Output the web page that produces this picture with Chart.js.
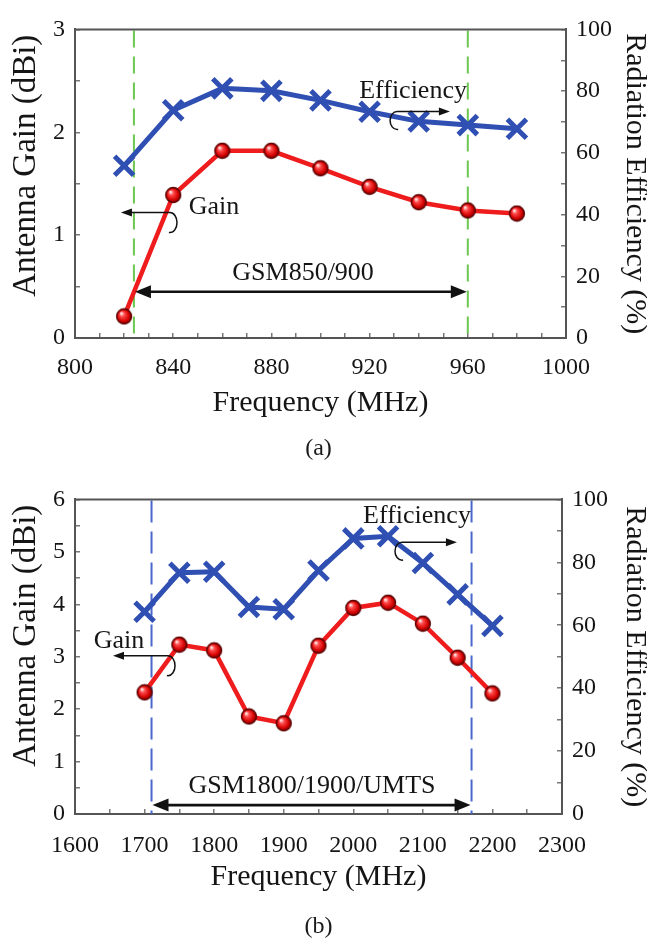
<!DOCTYPE html>
<html><head><meta charset="utf-8">
<script src="https://cdn.jsdelivr.net/npm/chart.js@4.4.1/dist/chart.umd.min.js"></script>
<style>
html,body{margin:0;padding:0;background:#fff;}
#wrap{position:relative;width:647px;height:949px;overflow:hidden;background:#fff;}
.cv{position:absolute;left:0;width:647px;}
.cap{position:absolute;left:-5px;width:647px;text-align:center;font-family:"Liberation Serif","Times New Roman",serif;font-size:24px;line-height:28px;color:#1a1a1a;}
</style></head><body>
<div id="wrap">
<div class="cv" style="top:0;height:470px;"><canvas id="c1" width="647" height="470"></canvas></div>
<div class="cv" style="top:470px;height:479px;"><canvas id="c2" width="647" height="479"></canvas></div>
<div class="cap" style="top:433px">(a)</div>
<div class="cap" style="top:911px">(b)</div>
</div>
<script>
// ---------- data (a) ----------
const freqA = [820, 840, 860, 880, 900, 920, 940, 960, 980];
const gainA = [0.21, 1.39, 1.82, 1.82, 1.65, 1.47, 1.32, 1.24, 1.21];
const effA  = [55.8, 73.8, 80.9, 80.1, 77.0, 73.3, 70.2, 69.0, 67.8];
const xTickLabelsA = [800, 840, 880, 920, 960, 1000];
const gainTickLabelsA = [0, 1, 2, 3];
const bandA = [824, 960];
const bandTextA = 'GSM850/900';

// ---------- data (b) ----------
const freqB = [1700, 1750, 1800, 1850, 1900, 1950, 2000, 2050, 2100, 2150, 2200];
const gainB = [2.32, 3.23, 3.12, 1.86, 1.73, 3.21, 3.93, 4.03, 3.63, 2.98, 2.30];
const effB  = [64.3, 76.7, 77.0, 65.8, 65.1, 77.4, 87.6, 88.3, 79.8, 69.8, 59.8];
const xTickLabelsB = [1600, 1700, 1800, 1900, 2000, 2100, 2200, 2300];
const gainTickLabelsB = [0, 1, 2, 3, 4, 5, 6];
const bandB = [1710, 2170];
const bandTextB = 'GSM1800/1900/UMTS';

const effTickLabels = [0, 20, 40, 60, 80, 100];
const gainTitle = 'Antenna Gain (dBi)';

// ---------- styling ----------
const FONT = '"Liberation Serif","Times New Roman",serif';
const TXT = '#151515';
const RED = '#ee1c1c';
const BLUE = '#2f4fb3';

function sphere(r){
  const s = Math.ceil(r*2+3);
  const c = document.createElement('canvas'); c.width = s; c.height = s;
  const g = c.getContext('2d'); const cx = s/2, cy = s/2;
  const gr = g.createRadialGradient(cx - r*0.38, cy - r*0.42, r*0.08, cx, cy, r);
  gr.addColorStop(0, '#ffe8e8');
  gr.addColorStop(0.28, '#ff4a4a');
  gr.addColorStop(0.75, '#d40000');
  gr.addColorStop(1, '#7a0000');
  g.fillStyle = gr; g.beginPath(); g.arc(cx, cy, r, 0, Math.PI*2); g.fill();
  g.lineWidth = 1.3; g.strokeStyle = '#5a0000'; g.stroke();
  return c;
}
const ball = sphere(7.5);

function xScale(min, max, step, labels, h, tickPad, titlePad){
  return {
    type: 'linear', position: 'bottom', min, max,
    ticks: {stepSize: step, autoSkip: false, maxRotation: 0, minRotation: 0, padding: tickPad, color: TXT,
      font: {family: FONT, size: 24}, callback: v => labels.includes(v) ? String(v) : ''},
    grid: {drawOnChartArea: false, tickLength: -5, color: '#777', lineWidth: 1.5},
    border: {color: '#555', width: 2},
    title: {display: true, text: 'Frequency (MHz)', color: TXT, font: {family: FONT, size: 30, lineHeight: 1.2},
      padding: {top: 0, bottom: titlePad}},
    afterFit(s){ s.height = h; }
  };
}
function yLeft(max, labels){
  return {
    type: 'linear', position: 'left', min: 0, max,
    ticks: {stepSize: 0.5, autoSkip: false, padding: 15, color: TXT, font: {family: FONT, size: 24},
      callback: v => labels.includes(v) ? String(v) : ''},
    grid: {drawOnChartArea: false, tickLength: -5, color: '#777', lineWidth: 1.5},
    border: {color: '#555', width: 2},
    title: {display: false, text: gainTitle},
    afterFit(s){ s.width = 75; }
  };
}
function yRight(w){
  return {
    type: 'linear', position: 'right', min: 0, max: 100,
    ticks: {stepSize: 10, autoSkip: false, padding: 15, color: TXT, font: {family: FONT, size: 24},
      callback: v => effTickLabels.includes(v) ? String(v) : ''},
    grid: {drawOnChartArea: false, tickLength: -5, color: '#777', lineWidth: 1.5},
    border: {color: '#555', width: 2},
    title: {display: true, text: 'Radiation Efficiency (%)', color: TXT, font: {family: FONT, size: 30, lineHeight: 1.2},
      padding: {top: -6, bottom: 0}},
    afterFit(s){ s.width = w; }
  };
}

function head(ctx, x, y, dir, len, hw){
  ctx.beginPath(); ctx.moveTo(x, y); ctx.lineTo(x - dir*len, y - hw); ctx.lineTo(x - dir*len, y + hw); ctx.closePath(); ctx.fill();
}
function seg(ctx, x1, y1, x2, y2){ ctx.beginPath(); ctx.moveTo(x1, y1); ctx.lineTo(x2, y2); ctx.stroke(); }

function annotPlugin(a){
  return {
    id: 'annot',
    beforeDatasetsDraw(chart){
      const {ctx, chartArea: ca, scales} = chart;
      ctx.save();
      ctx.strokeStyle = a.dashColor; ctx.lineWidth = 2; ctx.setLineDash(a.dash);
      a.band.forEach(f => {
        const px = scales.x.getPixelForValue(f);
        seg(ctx, px, ca.top + 1, px, ca.bottom);
      });
      ctx.restore();
    },
    afterDatasetsDraw(chart){
      const {ctx, chartArea: ca, scales} = chart;
      const X = v => scales.x.getPixelForValue(v);
      const YL = v => scales.yL.getPixelForValue(v);
      const YR = v => scales.yR.getPixelForValue(v);
      ctx.save();
      // frame top
      ctx.strokeStyle = '#555'; ctx.lineWidth = 2;
      seg(ctx, ca.left - 1, ca.top, ca.right + 1, ca.top);
      ctx.fillStyle = '#111'; ctx.strokeStyle = '#111';
      // band double arrow
      const bx1 = X(a.band[0]), bx2 = X(a.band[1]), by = YL(a.bandY);
      ctx.lineWidth = 2.6;
      seg(ctx, bx1 + 10, by, bx2 - 10, by);
      head(ctx, bx1 + 1, by, -1, 16, 6.5); head(ctx, bx2 - 1, by, 1, 16, 6.5);
      ctx.font = '26px ' + FONT; ctx.textAlign = 'center'; ctx.textBaseline = 'middle'; ctx.fillStyle = TXT;
      ctx.fillText(a.bandText, X(a.bandLabel[0]), YL(a.bandLabel[1]));
      ctx.fillText('Efficiency', X(a.effText[0]), YR(a.effText[1]));
      ctx.fillText('Gain', X(a.gainText[0]), YL(a.gainText[1]));
      // efficiency pointer (to the right)
      ctx.fillStyle = '#111'; ctx.lineWidth = 1.5;
      let y = YR(a.effArrow[2]), x1 = X(a.effArrow[0]), x2 = X(a.effArrow[1]);
      seg(ctx, x1, y, x2 - 8, y); head(ctx, x2, y, 1, 11, 4);
      ctx.beginPath(); ctx.ellipse(x1, y + 9, 7, 9, 0, -Math.PI/2, Math.PI*0.45, true); ctx.stroke();
      // gain pointer (to the left)
      y = YL(a.gainArrow[2]); x1 = X(a.gainArrow[0]); x2 = X(a.gainArrow[1]);
      seg(ctx, x1, y, x2 + 8, y); head(ctx, x2, y, -1, 11, 4);
      ctx.beginPath(); ctx.ellipse(x1, y + 10, 7, 10, 0, -Math.PI/2, Math.PI*0.55, false); ctx.stroke();
      ctx.restore();
    },
    afterDraw(chart){
      // left axis title (Antenna Gain), slightly above the axis centre as in the original figure
      const {ctx, chartArea: ca} = chart;
      ctx.save();
      ctx.translate(26, (ca.top + ca.bottom) / 2 - a.titleShift);
      ctx.rotate(-Math.PI / 2);
      ctx.font = '33px ' + FONT; ctx.textAlign = 'center'; ctx.textBaseline = 'middle'; ctx.fillStyle = TXT;
      ctx.fillText(gainTitle, 0, 0);
      ctx.restore();
    }
  };
}

function datasets(freq, gain, eff){
  return [
    {label: 'Gain', data: freq.map((f, i) => ({x: f, y: gain[i]})), yAxisID: 'yL',
      borderColor: RED, borderWidth: 4.5, pointStyle: ball, pointRadius: 8, tension: 0},
    {label: 'Efficiency', data: freq.map((f, i) => ({x: f, y: eff[i]})), yAxisID: 'yR',
      borderColor: BLUE, borderWidth: 5, pointStyle: 'crossRot', pointRadius: 13.5,
      pointBorderWidth: 5, pointBorderColor: BLUE, pointBackgroundColor: BLUE, tension: 0}
  ];
}

const common = {
  responsive: false, animation: false, devicePixelRatio: 1,
  plugins: {legend: {display: false}, tooltip: {enabled: false}},
  events: []
};

new Chart(document.getElementById('c1'), {
  type: 'line',
  data: {datasets: datasets(freqA, gainA, effA)},
  options: Object.assign({}, common, {
    layout: {padding: {top: 18, left: 0, right: 0, bottom: 0}},
    scales: {x: xScale(800, 1000, 10, xTickLabelsA, 132, 20, 49), yL: yLeft(3, gainTickLabelsA), yR: yRight(81)}
  }),
  plugins: [annotPlugin({
    band: bandA, dashColor: '#6cc850', dash: [17, 9], bandY: 0.45, bandText: bandTextA, bandLabel: [892.9, 0.628],
    effText: [937.7, 80.0], effArrow: [931.2, 952.7, 73.4],
    gainText: [856.6, 1.275], gainArrow: [838.7, 818.7, 1.219], titleShift: 18
  })]
});

new Chart(document.getElementById('c2'), {
  type: 'line',
  data: {datasets: datasets(freqB, gainB, effB)},
  options: Object.assign({}, common, {
    layout: {padding: {top: 28, left: 0, right: 0, bottom: 0}},
    scales: {x: xScale(1600, 2300, 50, xTickLabelsB, 135, 22, 54), yL: yLeft(6, gainTickLabelsB), yR: yRight(85)}
  }),
  plugins: [annotPlugin({
    band: bandB, dashColor: '#4a68cc', dash: [22, 9], bandY: 0.17, bandText: bandTextB, bandLabel: [1940.7, 0.53],
    effText: [2091.6, 94.6], effArrow: [2070, 2149, 86.4],
    gainText: [1663.2, 3.30], gainArrow: [1733.7, 1654.6, 3.02], titleShift: 21
  })]
});
</script>
</body></html>
